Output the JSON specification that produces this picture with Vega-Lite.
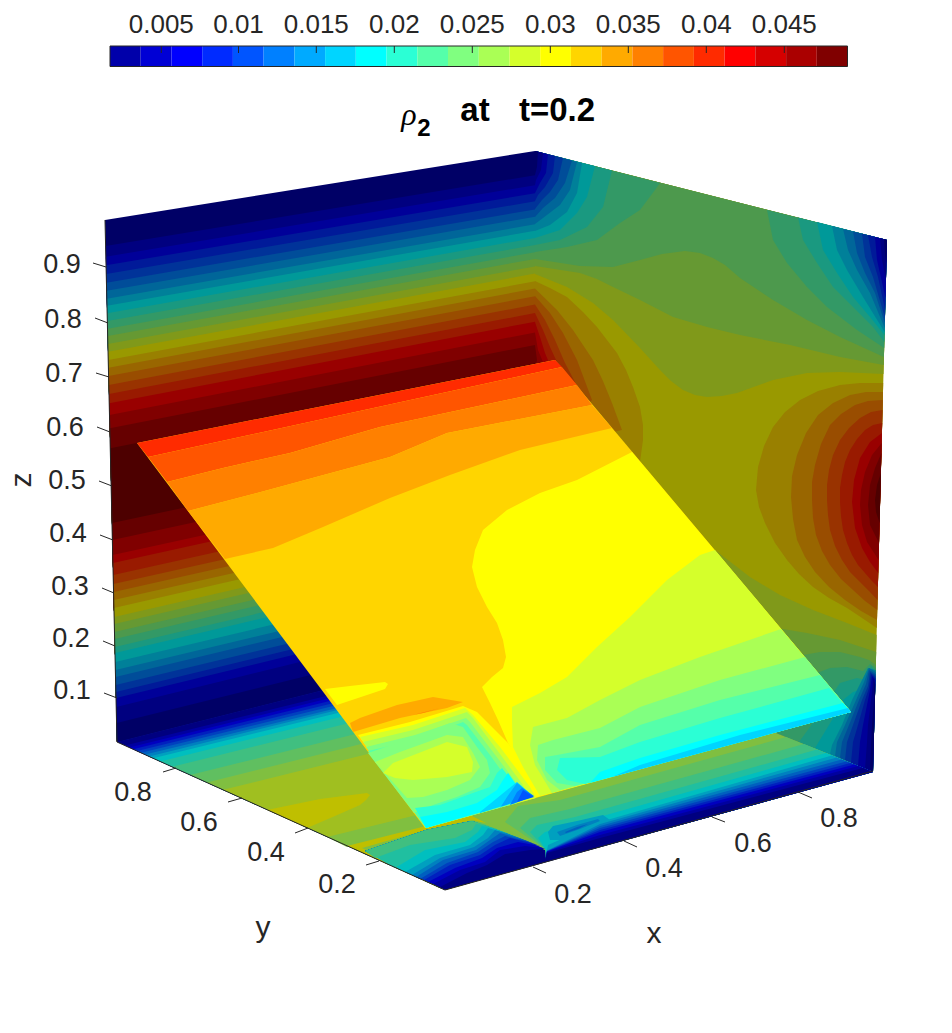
{
"$schema":"https://vega.github.io/schema/vega-lite/v6.json",
"width":952,"height":1033,"padding":0,"autosize":"none","background":"white",
"view":{"stroke":null},
"projection":{"type":"identity","scale":1,"translate":[0,0]},
"datasets":{
"walls":[
{"rho":0.0027,"type":"Polygon","coordinates":[[[105,220],[535,151],[535,637],[117,742],[105,220]]]},
{"rho":0.0047,"type":"Polygon","coordinates":[[[105.6,246],[535,175.2],[535,637],[117,742],[105.6,246]]]},
{"rho":0.0066,"type":"Polygon","coordinates":[[[105.8,256.7],[535,185.2],[535,637],[117,742],[105.8,256.7]]]},
{"rho":0.0086,"type":"Polygon","coordinates":[[[106,265.3],[535,193.2],[535,637],[117,742],[106,265.3]]]},
{"rho":0.0106,"type":"Polygon","coordinates":[[[106.2,274],[535,201.3],[535,637],[117,742],[106.2,274]]]},
{"rho":0.0126,"type":"Polygon","coordinates":[[[106.4,282.7],[535,209.4],[535,637],[117,742],[106.4,282.7]]]},
{"rho":0.0145,"type":"Polygon","coordinates":[[[106.6,290.7],[535,216.8],[535,637],[117,742],[106.6,290.7]]]},
{"rho":0.0165,"type":"Polygon","coordinates":[[[106.8,298.7],[535,224.3],[535,637],[117,742],[106.8,298.7]]]},
{"rho":0.0185,"type":"Polygon","coordinates":[[[107,305.7],[535,230.8],[535,637],[117,742],[107,305.7]]]},
{"rho":0.0205,"type":"Polygon","coordinates":[[[107.1,313.3],[535,237.9],[535,637],[117,742],[107.1,313.3]]]},
{"rho":0.0224,"type":"Polygon","coordinates":[[[107.3,321],[535,245],[535,637],[117,742],[107.3,321]]]},
{"rho":0.0244,"type":"Polygon","coordinates":[[[107.5,328.7],[535,252.2],[535,637],[117,742],[107.5,328.7]]]},
{"rho":0.0264,"type":"Polygon","coordinates":[[[107.7,336],[535,259],[535,637],[117,742],[107.7,336]]]},
{"rho":0.0284,"type":"Polygon","coordinates":[[[107.9,344],[535,266.4],[535,637],[117,742],[107.9,344]]]},
{"rho":0.0303,"type":"Polygon","coordinates":[[[108,351.7],[535,273.6],[535,637],[117,742],[108,351.7]]]},
{"rho":0.0323,"type":"Polygon","coordinates":[[[108.2,360],[535,281.3],[535,637],[117,742],[108.2,360]]]},
{"rho":0.0343,"type":"Polygon","coordinates":[[[108.4,367.7],[535,288.5],[535,637],[117,742],[108.4,367.7]]]},
{"rho":0.0363,"type":"Polygon","coordinates":[[[108.6,376],[535,296.2],[535,637],[117,742],[108.6,376]]]},
{"rho":0.0382,"type":"Polygon","coordinates":[[[108.8,385],[535,304.6],[535,637],[117,742],[108.8,385]]]},
{"rho":0.0402,"type":"Polygon","coordinates":[[[109,394],[535,313],[535,637],[117,742],[109,394]]]},
{"rho":0.0422,"type":"Polygon","coordinates":[[[109.2,403.3],[535,321.7],[535,637],[117,742],[109.2,403.3]]]},
{"rho":0.0442,"type":"Polygon","coordinates":[[[109.5,415],[535,332.5],[535,637],[117,742],[109.5,415]]]},
{"rho":0.0461,"type":"Polygon","coordinates":[[[109.8,428.3],[535,344.9],[535,637],[117,742],[109.8,428.3]]]},
{"rho":0.0481,"type":"Polygon","coordinates":[[[110.3,448.3],[535,363.5],[535,637],[117,742],[110.3,448.3]]]},
{"rho":0.0461,"type":"Polygon","coordinates":[[[112,523],[535,433],[535,637],[117,742],[112,523]]]},
{"rho":0.0442,"type":"Polygon","coordinates":[[[112.4,540],[535,449],[535,637],[117,742],[112.4,540]]]},
{"rho":0.0422,"type":"Polygon","coordinates":[[[112.7,555],[535,463],[535,637],[117,742],[112.7,555]]]},
{"rho":0.0402,"type":"Polygon","coordinates":[[[112.9,563],[535,470],[535,637],[117,742],[112.9,563]]]},
{"rho":0.0382,"type":"Polygon","coordinates":[[[113.2,575],[535,481.5],[535,637],[117,742],[113.2,575]]]},
{"rho":0.0363,"type":"Polygon","coordinates":[[[113.4,584],[535,490],[535,637],[117,742],[113.4,584]]]},
{"rho":0.0343,"type":"Polygon","coordinates":[[[113.6,592],[535,497],[535,637],[117,742],[113.6,592]]]},
{"rho":0.0323,"type":"Polygon","coordinates":[[[113.7,600],[535,505],[535,637],[117,742],[113.7,600]]]},
{"rho":0.0303,"type":"Polygon","coordinates":[[[113.9,608],[535,512],[535,637],[117,742],[113.9,608]]]},
{"rho":0.0284,"type":"Polygon","coordinates":[[[114.1,617],[535,520.6],[535,637],[117,742],[114.1,617]]]},
{"rho":0.0264,"type":"Polygon","coordinates":[[[114.3,624],[535,527],[535,637],[117,742],[114.3,624]]]},
{"rho":0.0244,"type":"Polygon","coordinates":[[[114.5,632],[535,534.6],[535,637],[117,742],[114.5,632]]]},
{"rho":0.0224,"type":"Polygon","coordinates":[[[114.6,639],[535,541],[535,637],[117,742],[114.6,639]]]},
{"rho":0.0205,"type":"Polygon","coordinates":[[[114.8,647],[535,548.5],[535,637],[117,742],[114.8,647]]]},
{"rho":0.0185,"type":"Polygon","coordinates":[[[115,653],[535,554],[535,637],[117,742],[115,653]]]},
{"rho":0.0165,"type":"Polygon","coordinates":[[[115.2,662],[535,562.5],[535,637],[117,742],[115.2,662]]]},
{"rho":0.0145,"type":"Polygon","coordinates":[[[115.4,670],[535,570],[535,637],[117,742],[115.4,670]]]},
{"rho":0.0126,"type":"Polygon","coordinates":[[[115.5,677],[535,576.5],[535,637],[117,742],[115.5,677]]]},
{"rho":0.0106,"type":"Polygon","coordinates":[[[115.7,685],[535,584],[535,637],[117,742],[115.7,685]]]},
{"rho":0.0086,"type":"Polygon","coordinates":[[[115.9,692],[535,590.5],[535,637],[117,742],[115.9,692]]]},
{"rho":0.0066,"type":"Polygon","coordinates":[[[116,698],[535,596],[535,637],[117,742],[116,698]]]},
{"rho":0.0047,"type":"Polygon","coordinates":[[[116.2,707],[535,604.4],[535,637],[117,742],[116.2,707]]]},
{"rho":0.0027,"type":"Polygon","coordinates":[[[116.6,723],[535,619.3],[535,637],[117,742],[116.6,723]]]},

{"rho":0.0303,"type":"Polygon","coordinates":[[[535,151],[887,240],[873,772],[535,637],[535,151]]]},
{"rho":0.0323,"type":"Polygon","coordinates":[[[535,281],[550,288],[567,297],[583,312],[597,327],[617,353],[626,370],[633,387],[640,407],[643,425],[643,440],[640,462],[540,450],[535,450],[535,281]]]},
{"rho":0.0343,"type":"Polygon","coordinates":[[[535,288.5],[557,310],[573,330],[593,360],[603,381],[612,403],[622,430],[540,450],[535,450],[535,288.5]]]},
{"rho":0.0363,"type":"Polygon","coordinates":[[[535,296],[550,313],[563,333],[577,360],[592,400],[540,450],[535,450],[535,296]]]},
{"rho":0.0382,"type":"Polygon","coordinates":[[[535,304.6],[545,320],[555,340],[565,363],[575,382],[540,450],[535,450],[535,304.6]]]},
{"rho":0.0402,"type":"Polygon","coordinates":[[[535,313],[543,330],[550,347],[557,362],[540,450],[535,450],[535,313]]]},
{"rho":0.0422,"type":"Polygon","coordinates":[[[535,322],[540,337],[545,353],[550,365],[540,450],[535,450],[535,322]]]},
{"rho":0.0442,"type":"Polygon","coordinates":[[[535,332.5],[538,350],[543,362],[540,450],[535,450],[535,332.5]]]},
{"rho":0.0461,"type":"Polygon","coordinates":[[[535,345],[537,360],[535,370],[535,345]]]},

{"rho":0.0323,"type":"Polygon","coordinates":[[[883.2,383],[860,383],[840,385],[818,391],[800,400],[785,412],[773,427],[764,446],[758,467],[756,490],[759,507],[765,523],[775,543],[787,560],[799,574],[813,587],[829,598],[847,608],[862,618],[876.8,628],[883.2,383]]]},
{"rho":0.0343,"type":"Polygon","coordinates":[[[883,392],[866,392],[850,395],[833,403],[818,415],[806,433],[797,455],[792,476],[791,497],[793,519],[797,540],[805,557],[815,572],[829,587],[845,600],[861,611],[877,620],[883,392]]]},
{"rho":0.0363,"type":"Polygon","coordinates":[[[882.8,400],[868,401],[855,405],[841,414],[830,425],[821,444],[815,465],[812,482],[812,500],[813,518],[816,535],[822,551],[830,565],[841,579],[853,590],[865,601],[877.3,610],[882.8,400]]]},
{"rho":0.0382,"type":"Polygon","coordinates":[[[882.5,410],[871,412],[860,418],[849,428],[840,440],[833,455],[829,470],[827,485],[827,500],[828,515],[830,530],[835,546],[842,560],[850,572],[860,582],[869,591],[877.5,600],[882.5,410]]]},
{"rho":0.0402,"type":"Polygon","coordinates":[[[882.2,423],[873,425],[865,430],[857,439],[850,450],[845,462],[842,475],[840,488],[840,502],[841,516],[843,530],[847,543],[852,555],[858,565],[865,573],[871,580],[877.9,587],[882.2,423]]]},
{"rho":0.0422,"type":"Polygon","coordinates":[[[881.9,433],[870,442],[860,458],[854,480],[852,502],[855,528],[862,548],[870,562],[878.2,573],[881.9,433]]]},
{"rho":0.0442,"type":"Polygon","coordinates":[[[881.7,443],[872,455],[865,472],[861,490],[860,505],[862,525],[867,542],[878.6,560],[881.7,443]]]},
{"rho":0.0461,"type":"Polygon","coordinates":[[[881.4,453],[875,468],[870,485],[868,505],[870,525],[879,543],[881.4,453]]]},
{"rho":0.0481,"type":"Polygon","coordinates":[[[880.9,473],[877,485],[875,500],[876,512],[879.6,523],[880.9,473]]]},

{"rho":0.0284,"type":"Polygon","coordinates":[[[535,151],[887,240],[883.5,374],[840,372],[807,373],[773,380],[737,393],[722,396],[707,397],[695,395],[683,390],[671,381],[660,370],[640,348],[613,320],[593,303],[567,287],[535,274],[535,151]]]},
{"rho":0.0264,"type":"Polygon","coordinates":[[[535,151],[887,240],[883.7,365],[840,357],[790,345],[740,335],[707,327],[673,317],[640,300],[613,287],[597,279],[580,273],[535,266],[535,151]]]},
{"rho":0.0244,"type":"Polygon","coordinates":[[[535,151],[887,240],[883.9,357],[840,337],[807,320],[773,300],[740,278],[725,265],[713,258],[700,253],[685,251],[662,254],[640,260],[613,267],[580,266],[535,259],[535,151]]]},
{"rho":0.0224,"type":"Polygon","coordinates":[[[535,151],[660,183],[655,190],[640,210],[620,223],[597,240],[567,247],[535,252],[535,151]]]},
{"rho":0.0224,"type":"Polygon","coordinates":[[[767,210],[773,240],[787,263],[807,287],[827,307],[857,330],[884.2,348],[887,240],[767,210]]]},
{"rho":0.0205,"type":"Polygon","coordinates":[[[535,151],[612,170.5],[603,207],[587,227],[560,240],[535,245],[535,151]]]},
{"rho":0.0205,"type":"Polygon","coordinates":[[[798,217.5],[803,240],[817,263],[833,287],[853,307],[873,327],[884.3,342],[887,240],[798,217.5]]]},
{"rho":0.0185,"type":"Polygon","coordinates":[[[535,151],[595,166],[587,197],[577,213],[560,230],[535,238],[535,151]]]},
{"rho":0.0185,"type":"Polygon","coordinates":[[[817,222],[823,250],[837,273],[853,297],[870,317],[884.5,335],[887,240],[817,222]]]},
{"rho":0.0165,"type":"Polygon","coordinates":[[[535,151],[582,163],[577,193],[567,212],[550,225],[535,231],[535,151]]]},
{"rho":0.0165,"type":"Polygon","coordinates":[[[832,226],[837,250],[847,270],[863,297],[884.6,332],[887,240],[832,226]]]},
{"rho":0.0145,"type":"Polygon","coordinates":[[[535,151],[577,162],[570,190],[560,205],[543,218],[535,224],[535,151]]]},
{"rho":0.0145,"type":"Polygon","coordinates":[[[843,229],[848,250],[857,270],[870,293],[884.7,328],[887,240],[843,229]]]},
{"rho":0.0126,"type":"Polygon","coordinates":[[[535,151],[572,160.4],[565,183],[555,198],[543,208],[535,217],[535,151]]]},
{"rho":0.0126,"type":"Polygon","coordinates":[[[853,231.4],[857,253],[865,273],[875,293],[884.8,323],[887,240],[853,231.4]]]},
{"rho":0.0106,"type":"Polygon","coordinates":[[[535,151],[563,158],[558,180],[550,192],[542,200],[535,209],[535,151]]]},
{"rho":0.0106,"type":"Polygon","coordinates":[[[862,233.7],[865,257],[873,277],[885,318],[887,240],[862,233.7]]]},
{"rho":0.0086,"type":"Polygon","coordinates":[[[535,151],[555,156],[553,173],[545,187],[538,195],[535,201],[535,151]]]},
{"rho":0.0086,"type":"Polygon","coordinates":[[[868,235],[872,257],[878,277],[885.2,310],[887,240],[868,235]]]},
{"rho":0.0066,"type":"Polygon","coordinates":[[[535,151],[548,154.3],[546,173],[540,183],[535,193],[535,151]]]},
{"rho":0.0066,"type":"Polygon","coordinates":[[[875,237],[877,260],[885.5,298],[887,240],[875,237]]]},
{"rho":0.0047,"type":"Polygon","coordinates":[[[535,151],[543,153],[541,170],[536,180],[535,185],[535,151]]]},
{"rho":0.0047,"type":"Polygon","coordinates":[[[880,238],[882,260],[886,280],[887,240],[880,238]]]},
{"rho":0.0027,"type":"Polygon","coordinates":[[[535,151],[538,151.8],[537,167],[535,175],[535,151]]]},
{"rho":0.0027,"type":"Polygon","coordinates":[[[884,239],[885,255],[886.4,263],[887,240],[884,239]]]},

{"rho":0.0284,"type":"Polygon","coordinates":[[[876.6,635],[847,623],[813,610],[780,595],[750,577],[715,550],[660,520],[660,680],[700,700],[873,772],[876.6,635]]]},
{"rho":0.0264,"type":"Polygon","coordinates":[[[876.2,652],[840,640],[807,633],[783,629],[700,630],[700,700],[873,772],[876.2,652]]]},
{"rho":0.0244,"type":"Polygon","coordinates":[[[803,655],[820,652],[840,652],[860,657],[869,660],[875.8,665],[873,772],[776,733],[803,655]]]},
{"rho":0.0224,"type":"Polygon","coordinates":[[[817,673],[830,668],[847,667],[863,671],[870,664],[875.7,668],[873,772],[776,733],[800,700],[817,673]]]},
{"rho":0.0205,"type":"Polygon","coordinates":[[[833,693],[840,683],[857,678],[866,680],[871,666],[875.6,672],[873,772],[799,742],[815,720],[833,693]]]},
{"rho":0.0185,"type":"Polygon","coordinates":[[[843,700],[853,692],[866,688],[872,668],[875.5,676],[873,772],[815,748],[832,720],[843,700]]]},
{"rho":0.0165,"type":"Polygon","coordinates":[[[868,668],[862,680],[852,700],[842,725],[832,745],[830,754],[873,772],[875.7,670],[868,668]]]},
{"rho":0.0145,"type":"Polygon","coordinates":[[[869,668],[864,682],[856,700],[845,725],[837,742],[835,756],[873,772],[875.6,672],[869,668]]]},
{"rho":0.0126,"type":"Polygon","coordinates":[[[869,670],[866,684],[859,700],[849,725],[842,742],[840,758],[873,772],[875.6,674],[869,670]]]},
{"rho":0.0106,"type":"Polygon","coordinates":[[[870,672],[868,686],[862,700],[853,725],[847,742],[845,760],[873,772],[875.5,676],[870,672]]]},
{"rho":0.0086,"type":"Polygon","coordinates":[[[871,674],[869,688],[865,700],[858,725],[853,742],[851,763],[873,772],[875.5,678],[871,674]]]},
{"rho":0.0066,"type":"Polygon","coordinates":[[[872,676],[870,690],[868,700],[863,725],[860,742],[858,766],[873,772],[875.4,680],[872,676]]]},
{"rho":0.0047,"type":"Polygon","coordinates":[[[873,678],[872,692],[871,700],[868,725],[867,742],[865,769],[873,772],[875.3,684],[873,678]]]},
{"rho":0.0027,"type":"Polygon","coordinates":[[[874,680],[874,700],[872,725],[871,745],[870,771],[873,772],[875.2,690],[874,680]]]}
],
"floor":[
{"rho":0.0027,"type":"Polygon","coordinates":[[[117,742],[535,637],[873,772],[445,890],[117,742]]]},
{"rho":0.0047,"type":"Polygon","coordinates":[[[125,745.6],[375,684],[650,700],[445,890],[125,745.6]]]},
{"rho":0.0066,"type":"Polygon","coordinates":[[[129,747.4],[379,686],[650,700],[445,890],[129,747.4]]]},
{"rho":0.0086,"type":"Polygon","coordinates":[[[133,749.2],[383,688],[650,700],[445,890],[133,749.2]]]},
{"rho":0.0106,"type":"Polygon","coordinates":[[[137,751],[387,690],[650,700],[445,890],[137,751]]]},
{"rho":0.0126,"type":"Polygon","coordinates":[[[141,752.8],[391,692],[650,700],[445,890],[141,752.8]]]},
{"rho":0.0145,"type":"Polygon","coordinates":[[[145,754.6],[395,694],[650,700],[445,890],[145,754.6]]]},
{"rho":0.0165,"type":"Polygon","coordinates":[[[149,756.4],[399,695],[650,700],[445,890],[149,756.4]]]},
{"rho":0.0185,"type":"Polygon","coordinates":[[[153,758.2],[403,697],[650,700],[445,890],[153,758.2]]]},
{"rho":0.0205,"type":"Polygon","coordinates":[[[160,761.4],[410,700],[650,700],[445,890],[160,761.4]]]},
{"rho":0.0224,"type":"Polygon","coordinates":[[[172,766.8],[422,705],[650,700],[445,890],[172,766.8]]]},
{"rho":0.0244,"type":"Polygon","coordinates":[[[190,775],[440,713],[650,700],[445,890],[190,775]]]},
{"rho":0.0264,"type":"Polygon","coordinates":[[[207,782.6],[457,720],[650,700],[445,890],[207,782.6]]]},
{"rho":0.0284,"type":"Polygon","coordinates":[[[223,789.8],[473,728],[650,700],[445,890],[223,789.8]]]},
{"rho":0.0303,"type":"Polygon","coordinates":[[[267,810],[320,799],[367,793],[370,795],[366,800],[360,805],[335,816],[307,828],[267,810]]]},
{"rho":0.0264,"type":"Polygon","coordinates":[[[327,837],[425,813],[440,830],[347,847],[327,837]]]},
{"rho":0.0303,"type":"Polygon","coordinates":[[[347,846],[426,826],[475,812],[490,815],[545,848],[545,862],[445,890],[347,846]]]},
{"rho":0.0264,"type":"Polygon","coordinates":[[[470,790],[700,715],[776,733],[873,772],[545,862],[500,830],[470,815],[470,790]]]},
{"rho":0.0244,"type":"Polygon","coordinates":[[[545,849],[505,822],[518,806],[560,800],[786,737],[873,772],[545,862],[545,849]]]},
{"rho":0.0224,"type":"Polygon","coordinates":[[[545,849],[520,828],[530,818],[570,809],[804,744],[873,772],[545,862],[545,849]]]},
{"rho":0.0205,"type":"Polygon","coordinates":[[[546,850],[530,832],[537,825],[575,817],[817,749.6],[873,772],[545,862],[546,850]]]},
{"rho":0.0185,"type":"Polygon","coordinates":[[[546,850],[538,838],[545,832],[585,821],[826,753],[873,772],[545,862],[546,850]]]},
{"rho":0.0165,"type":"Polygon","coordinates":[[[548,832],[553,826],[577,821],[603,815],[610,820],[590,832],[563,840],[550,840],[548,832]]]},
{"rho":0.0145,"type":"Polygon","coordinates":[[[557,832],[577,825],[598,819],[600,821],[580,829],[560,836],[557,832]]]},
{"rho":0.0126,"type":"Polygon","coordinates":[[[565,832],[577,827],[588,824],[578,829],[566,833],[565,832]]]},
{"rho":0.0165,"type":"Polygon","coordinates":[[[547,850],[548,845],[600,822],[831.8,755.5],[873,772],[545,862],[547,850]]]},
{"rho":0.0145,"type":"Polygon","coordinates":[[[547,850.5],[600,824],[836.7,757.5],[873,772],[545,862],[547,850.5]]]},
{"rho":0.0126,"type":"Polygon","coordinates":[[[547,851],[600,826],[841.7,759.5],[873,772],[545,862],[547,851]]]},
{"rho":0.0106,"type":"Polygon","coordinates":[[[547,851],[600,828],[846.5,761.4],[873,772],[545,862],[547,851]]]},
{"rho":0.0086,"type":"Polygon","coordinates":[[[547,851.5],[600,830],[850.5,763],[873,772],[545,862],[547,851.5]]]},
{"rho":0.0066,"type":"Polygon","coordinates":[[[547,851.5],[600,832],[854.3,764.5],[873,772],[545,862],[547,851.5]]]},
{"rho":0.0047,"type":"Polygon","coordinates":[[[547,852],[600,835],[858.3,766],[873,772],[545,862],[547,852]]]},
{"rho":0.0027,"type":"Polygon","coordinates":[[[547,853],[600,838],[862.7,768],[873,772],[545,862],[547,853]]]},
{"rho":0.0264,"type":"Polygon","coordinates":[[[362,848],[426,830],[472,820],[500,826],[545,850],[545,862],[445,890],[362,848]]]},
{"rho":0.0027,"type":"Polygon","coordinates":[[[365,851],[445,890],[546,862],[545,850],[472,821],[365,851]]]},
{"rho":0.0047,"type":"Polygon","coordinates":[[[440,887],[467,873],[487,865],[505,854],[530,850],[545,849],[472,821],[426,830],[365,851],[440,887]]]},
{"rho":0.0066,"type":"Polygon","coordinates":[[[433,884],[460,870],[485,862],[500,850],[525,846],[543,848],[472,821],[426,830],[365,851],[433,884]]]},
{"rho":0.0086,"type":"Polygon","coordinates":[[[428,882],[455,868],[482,858],[497,848],[518,842],[540,846],[472,821],[426,830],[365,851],[428,882]]]},
{"rho":0.0106,"type":"Polygon","coordinates":[[[424,880],[450,865],[480,855],[495,845],[510,838],[535,844],[472,821],[426,830],[365,851],[424,880]]]},
{"rho":0.0126,"type":"Polygon","coordinates":[[[420,879],[447,863],[478,852],[493,842],[505,836],[530,842],[472,821],[426,830],[365,851],[420,879]]]},
{"rho":0.0145,"type":"Polygon","coordinates":[[[416,877],[443,860],[476,850],[490,840],[500,833],[525,840],[472,821],[426,830],[365,851],[416,877]]]},
{"rho":0.0165,"type":"Polygon","coordinates":[[[412,875],[440,858],[474,847],[488,838],[495,830],[520,838],[472,821],[426,830],[365,851],[412,875]]]},
{"rho":0.0185,"type":"Polygon","coordinates":[[[405,872],[435,855],[470,845],[483,835],[488,828],[510,834],[472,821],[426,830],[365,851],[405,872]]]},
{"rho":0.0205,"type":"Polygon","coordinates":[[[395,868],[425,850],[465,842],[478,832],[482,826],[500,830],[472,821],[426,830],[365,851],[395,868]]]},
{"rho":0.0224,"type":"Polygon","coordinates":[[[375,858],[410,845],[455,838],[472,830],[476,824],[490,826],[472,821],[426,830],[365,851],[375,858]]]}
],
"slice":[
{"rho":0.0323,"type":"Polygon","coordinates":[[[137,443],[555,360],[851,712],[425,828],[137,443]]]},
{"rho":0.0402,"type":"Polygon","coordinates":[[[137,443],[555,360],[562,367],[148,457],[137,443]]]},
{"rho":0.0382,"type":"Polygon","coordinates":[[[148,457],[562,367],[577,385],[380,427],[290,453],[223,468],[167,482],[148,457]]]},
{"rho":0.0363,"type":"Polygon","coordinates":[[[167,482],[223,468],[290,453],[380,427],[577,385],[592,405],[447,433],[390,457],[257,493],[188,511],[167,482]]]},
{"rho":0.0343,"type":"Polygon","coordinates":[[[188,511],[257,493],[390,457],[447,433],[592,405],[612,428],[520,450],[450,475],[390,498],[323,527],[273,548],[225,559],[188,511]]]},
{"rho":0.0303,"type":"Polygon","coordinates":[[[632,452],[577,480],[540,493],[507,510],[483,530],[475,550],[472,567],[477,587],[487,607],[497,623],[503,640],[506,657],[503,668],[492,677],[482,687],[490,703],[498,720],[508,743],[541,796],[851,712],[632,452]]]},
{"rho":0.0303,"type":"Polygon","coordinates":[[[325,689],[350,686],[385,682],[388,684],[385,689],[370,694],[337,705],[325,689]]]},
{"rho":0.0343,"type":"Polygon","coordinates":[[[350,723],[360,718],[397,705],[433,697],[463,702],[447,708],[400,718],[353,732],[350,723]]]},
{"rho":0.0363,"type":"Polygon","coordinates":[[[413,715],[440,708],[423,713],[413,715]]]},
{"rho":0.0303,"type":"Polygon","coordinates":[[[358,735],[410,722],[463,706],[477,712],[508,743],[530,773],[541,796],[426,828],[358,735]]]},
{"rho":0.0284,"type":"Polygon","coordinates":[[[360,737],[413,725],[465,708],[473,715],[500,747],[530,787],[536,798],[426,828],[360,737]]]},
{"rho":0.0264,"type":"Polygon","coordinates":[[[363,742],[413,730],[467,712],[473,718],[497,750],[523,785],[528,799],[426,828],[363,742]]]},
{"rho":0.0244,"type":"Polygon","coordinates":[[[366,747],[415,735],[466,718],[470,722],[493,752],[518,785],[522,801],[426,828],[366,747]]]},
{"rho":0.0224,"type":"Polygon","coordinates":[[[368,751],[416,740],[463,722],[467,725],[490,755],[513,787],[517,803],[426,828],[368,751]]]},
{"rho":0.0244,"type":"Polygon","coordinates":[[[368,753],[400,742],[450,723],[463,727],[477,747],[487,760],[490,773],[480,787],[457,797],[433,805],[414,813],[368,753]]]},
{"rho":0.0264,"type":"Polygon","coordinates":[[[375,762],[400,752],[447,735],[463,737],[473,753],[480,767],[470,780],[447,790],[423,797],[407,798],[375,762]]]},
{"rho":0.0284,"type":"Polygon","coordinates":[[[383,773],[393,763],[447,742],[467,747],[473,762],[472,772],[447,777],[413,780],[395,778],[383,773]]]},
{"rho":0.0205,"type":"Polygon","coordinates":[[[415,808],[440,805],[473,793],[490,787],[497,773],[502,768],[517,787],[530,797],[426,827],[415,808]]]},
{"rho":0.0185,"type":"Polygon","coordinates":[[[420,817],[447,812],[477,803],[497,790],[503,780],[508,773],[520,790],[530,798],[426,828],[420,817]]]},
{"rho":0.0165,"type":"Polygon","coordinates":[[[480,812],[507,790],[517,782],[533,796],[480,813],[480,812]]]},
{"rho":0.0145,"type":"Polygon","coordinates":[[[500,808],[507,797],[517,783],[523,788],[533,796],[500,807],[500,808]]]},
{"rho":0.0126,"type":"Polygon","coordinates":[[[510,805],[517,792],[522,788],[534,796],[510,805]]]},
{"rho":0.0106,"type":"Polygon","coordinates":[[[517,802],[523,790],[534,797],[517,802]]]},
{"rho":0.0284,"type":"Polygon","coordinates":[[[715,550],[700,555],[667,580],[630,617],[597,647],[567,677],[540,693],[512,707],[512,722],[513,747],[523,767],[540,796],[851,712],[715,550]]]},
{"rho":0.0264,"type":"Polygon","coordinates":[[[781,629],[700,657],[640,680],[600,700],[567,718],[533,727],[530,745],[535,765],[552,793],[851,712],[781,629]]]},
{"rho":0.0244,"type":"Polygon","coordinates":[[[805,657],[720,680],[640,707],[600,728],[553,740],[538,745],[537,760],[547,780],[560,790],[851,712],[805,657]]]},
{"rho":0.0224,"type":"Polygon","coordinates":[[[820,675],[720,700],[640,725],[600,747],[557,755],[545,757],[545,770],[557,783],[575,786],[851,712],[820,675]]]},
{"rho":0.0205,"type":"Polygon","coordinates":[[[829,688],[720,718],[640,742],[600,757],[560,758],[557,770],[567,780],[585,784],[851,712],[829,688]]]},
{"rho":0.0185,"type":"Polygon","coordinates":[[[843,703],[720,735],[640,758],[600,772],[590,783],[851,712],[843,703]]]},
{"rho":0.0165,"type":"Polygon","coordinates":[[[848,708],[740,735],[640,765],[612,777],[851,712],[848,708]]]},
{"rho":0.0027,"type":"Polygon","coordinates":[[[110,46],[140.7,46],[140.7,66.5],[110,66.5],[110,46]]]},
{"rho":0.0047,"type":"Polygon","coordinates":[[[140.7,46],[171.5,46],[171.5,66.5],[140.7,66.5],[140.7,46]]]},
{"rho":0.0066,"type":"Polygon","coordinates":[[[171.5,46],[202.2,46],[202.2,66.5],[171.5,66.5],[171.5,46]]]},
{"rho":0.0086,"type":"Polygon","coordinates":[[[202.2,46],[232.9,46],[232.9,66.5],[202.2,66.5],[202.2,46]]]},
{"rho":0.0106,"type":"Polygon","coordinates":[[[232.9,46],[263.6,46],[263.6,66.5],[232.9,66.5],[232.9,46]]]},
{"rho":0.0126,"type":"Polygon","coordinates":[[[263.6,46],[294.4,46],[294.4,66.5],[263.6,66.5],[263.6,46]]]},
{"rho":0.0145,"type":"Polygon","coordinates":[[[294.4,46],[325.1,46],[325.1,66.5],[294.4,66.5],[294.4,46]]]},
{"rho":0.0165,"type":"Polygon","coordinates":[[[325.1,46],[355.8,46],[355.8,66.5],[325.1,66.5],[325.1,46]]]},
{"rho":0.0185,"type":"Polygon","coordinates":[[[355.8,46],[386.6,46],[386.6,66.5],[355.8,66.5],[355.8,46]]]},
{"rho":0.0205,"type":"Polygon","coordinates":[[[386.6,46],[417.3,46],[417.3,66.5],[386.6,66.5],[386.6,46]]]},
{"rho":0.0224,"type":"Polygon","coordinates":[[[417.3,46],[448,46],[448,66.5],[417.3,66.5],[417.3,46]]]},
{"rho":0.0244,"type":"Polygon","coordinates":[[[448,46],[478.8,46],[478.8,66.5],[448,66.5],[448,46]]]},
{"rho":0.0264,"type":"Polygon","coordinates":[[[478.8,46],[509.5,46],[509.5,66.5],[478.8,66.5],[478.8,46]]]},
{"rho":0.0284,"type":"Polygon","coordinates":[[[509.5,46],[540.2,46],[540.2,66.5],[509.5,66.5],[509.5,46]]]},
{"rho":0.0303,"type":"Polygon","coordinates":[[[540.2,46],[570.9,46],[570.9,66.5],[540.2,66.5],[540.2,46]]]},
{"rho":0.0323,"type":"Polygon","coordinates":[[[570.9,46],[601.7,46],[601.7,66.5],[570.9,66.5],[570.9,46]]]},
{"rho":0.0343,"type":"Polygon","coordinates":[[[601.7,46],[632.4,46],[632.4,66.5],[601.7,66.5],[601.7,46]]]},
{"rho":0.0363,"type":"Polygon","coordinates":[[[632.4,46],[663.1,46],[663.1,66.5],[632.4,66.5],[632.4,46]]]},
{"rho":0.0382,"type":"Polygon","coordinates":[[[663.1,46],[693.9,46],[693.9,66.5],[663.1,66.5],[663.1,46]]]},
{"rho":0.0402,"type":"Polygon","coordinates":[[[693.9,46],[724.6,46],[724.6,66.5],[693.9,66.5],[693.9,46]]]},
{"rho":0.0422,"type":"Polygon","coordinates":[[[724.6,46],[755.3,46],[755.3,66.5],[724.6,66.5],[724.6,46]]]},
{"rho":0.0442,"type":"Polygon","coordinates":[[[755.3,46],[786.1,46],[786.1,66.5],[755.3,66.5],[755.3,46]]]},
{"rho":0.0461,"type":"Polygon","coordinates":[[[786.1,46],[816.8,46],[816.8,66.5],[786.1,66.5],[786.1,46]]]},
{"rho":0.0481,"type":"Polygon","coordinates":[[[816.8,46],[847.5,46],[847.5,66.5],[816.8,66.5],[816.8,46]]]}
],
"lines":[
{"type":"LineString","coordinates":[[105,220],[117,742],[445,890],[873,771]]},
{"type":"LineString","coordinates":[[110,46],[847.5,46],[847.5,66.5],[110,66.5],[110,46]]},
{"type":"LineString","coordinates":[[93,263],[106,267]]},{"type":"LineString","coordinates":[[95,318],[108,323]]},
{"type":"LineString","coordinates":[[96,373],[109,377]]},{"type":"LineString","coordinates":[[97,427],[110,432]]},
{"type":"LineString","coordinates":[[99,481],[112,486]]},{"type":"LineString","coordinates":[[100,535],[113,540]]},
{"type":"LineString","coordinates":[[102,588],[114,593]]},{"type":"LineString","coordinates":[[103,641],[115,646]]},
{"type":"LineString","coordinates":[[104,693],[117,698]]},
{"type":"LineString","coordinates":[[163,772],[176,768]]},{"type":"LineString","coordinates":[[228,802],[242,798]]},
{"type":"LineString","coordinates":[[295,833],[308,828]]},{"type":"LineString","coordinates":[[366,865],[379,861]]},
{"type":"LineString","coordinates":[[533,867],[546,873]]},{"type":"LineString","coordinates":[[624,841],[637,847]]},
{"type":"LineString","coordinates":[[712,817],[725,822]]},{"type":"LineString","coordinates":[[798,792],[812,798]]},
{"type":"LineString","coordinates":[[161.3,46],[161.3,53]]},{"type":"LineString","coordinates":[[238.5,46],[238.5,53]]},
{"type":"LineString","coordinates":[[316.3,46],[316.3,53]]},{"type":"LineString","coordinates":[[394.3,46],[394.3,53]]},
{"type":"LineString","coordinates":[[472.3,46],[472.3,53]]},{"type":"LineString","coordinates":[[550.3,46],[550.3,53]]},
{"type":"LineString","coordinates":[[628.3,46],[628.3,53]]},{"type":"LineString","coordinates":[[706.3,46],[706.3,53]]},
{"type":"LineString","coordinates":[[784.3,46],[784.3,53]]}
],
"labels":[
{"t":"0.005","h":161.3,"v":25,"s":26},{"t":"0.01","h":238.5,"v":25,"s":26},{"t":"0.015","h":316.3,"v":25,"s":26},
{"t":"0.02","h":394.3,"v":25,"s":26},{"t":"0.025","h":472.3,"v":25,"s":26},{"t":"0.03","h":550.3,"v":25,"s":26},
{"t":"0.035","h":628.3,"v":25,"s":26},{"t":"0.04","h":706.3,"v":25,"s":26},{"t":"0.045","h":784.3,"v":25,"s":26},
{"t":"0.9","h":62,"v":265,"s":27},{"t":"0.8","h":63,"v":320,"s":27},{"t":"0.7","h":64,"v":374,"s":27},
{"t":"0.6","h":65,"v":428,"s":27},{"t":"0.5","h":67,"v":481,"s":27},{"t":"0.4","h":68,"v":534,"s":27},
{"t":"0.3","h":70,"v":587,"s":27},{"t":"0.2","h":71,"v":639,"s":27},{"t":"0.1","h":72,"v":691,"s":27},
{"t":"0.8","h":133,"v":793,"s":27},{"t":"0.6","h":199,"v":823,"s":27},{"t":"0.4","h":266,"v":853,"s":27},{"t":"0.2","h":337,"v":885,"s":27},
{"t":"0.2","h":573,"v":895,"s":27},{"t":"0.4","h":664,"v":869,"s":27},{"t":"0.6","h":753,"v":844,"s":27},{"t":"0.8","h":839,"v":819,"s":27},
{"t":"x","h":654,"v":934,"s":30},{"t":"y","h":263,"v":928,"s":30}
],
"zlabel":[{"t":"z","h":22,"v":480}],
"title":[{"t":"at","h":475,"v":111},{"t":"t=0.2","h":557,"v":111}],
"rhoTitle":[{"t":"ρ","h":409,"v":115,"s":28,"w":"normal","f":"italic"},{"t":"2","h":424,"v":129,"s":22,"w":"bold","f":"normal"}]
},
"resolve":{"scale":{"color":"independent"}},
"layer":[
{"data":{"name":"walls"},"mark":{"type":"geoshape","strokeWidth":0},
"encoding":{"color":{"field":"rho","type":"quantitative","legend":null,"scale":{"type":"quantize","domain":[0.0017,0.0491],"range":["#000066","#000080","#000099","#001a99","#003399","#004d99","#006699","#008099","#009999","#1a9980","#339966","#4d994d","#669933","#80991a","#999900","#998000","#996600","#994d00","#993300","#991a00","#990000","#800000","#660000","#4d0000"]}}}},
{"data":{"name":"floor"},"mark":{"type":"geoshape","strokeWidth":0},
"encoding":{"color":{"field":"rho","type":"quantitative","legend":null,"scale":{"type":"quantize","domain":[0.0017,0.0491],"range":["#000080","#0000a0","#0000bf","#0020bf","#0040bf","#0060bf","#0080bf","#00a0bf","#00bfbf","#20bfa0","#40bf80","#60bf60","#80bf40","#a0bf20","#bfbf00","#bfa000","#bf8000","#bf6000","#bf4000","#bf2000","#bf0000","#a00000","#800000","#600000"]}}}},
{"data":{"name":"slice"},"mark":{"type":"geoshape","strokeWidth":0},
"encoding":{"color":{"field":"rho","type":"quantitative","legend":null,"scale":{"type":"quantize","domain":[0.0017,0.0491],"range":["#0000aa","#0000d5","#0000ff","#002bff","#0055ff","#0080ff","#00aaff","#00d5ff","#00ffff","#2bffd5","#55ffaa","#80ff80","#aaff55","#d5ff2b","#ffff00","#ffd500","#ffaa00","#ff8000","#ff5500","#ff2b00","#ff0000","#d50000","#aa0000","#800000"]}}}},
{"data":{"name":"lines"},"mark":{"type":"geoshape","filled":false,"stroke":"#262626","strokeWidth":1}},
{"data":{"name":"labels"},"mark":{"type":"text","font":"Liberation Sans","fill":"#262626","align":"center","baseline":"middle"},
"encoding":{"longitude":{"field":"h","type":"quantitative"},"latitude":{"field":"v","type":"quantitative"},"text":{"field":"t","type":"nominal"},"size":{"field":"s","type":"quantitative","scale":null}}},
{"data":{"name":"zlabel"},"mark":{"type":"text","font":"Liberation Sans","fontSize":30,"fill":"#262626","angle":270,"align":"center","baseline":"middle"},
"encoding":{"longitude":{"field":"h","type":"quantitative"},"latitude":{"field":"v","type":"quantitative"},"text":{"field":"t","type":"nominal"}}},
{"data":{"name":"title"},"mark":{"type":"text","font":"Liberation Sans","fontSize":33,"fontWeight":"bold","fill":"black","align":"center","baseline":"middle"},
"encoding":{"longitude":{"field":"h","type":"quantitative"},"latitude":{"field":"v","type":"quantitative"},"text":{"field":"t","type":"nominal"}}},
{"data":{"name":"rhoTitle"},"transform":[{"filter":"datum.w==='normal'"}],"mark":{"type":"text","font":"Liberation Serif","fontSize":32,"fontStyle":"italic","fill":"black","align":"center","baseline":"middle"},
"encoding":{"longitude":{"field":"h","type":"quantitative"},"latitude":{"field":"v","type":"quantitative"},"text":{"field":"t","type":"nominal"}}},
{"data":{"name":"rhoTitle"},"transform":[{"filter":"datum.w==='bold'"}],"mark":{"type":"text","font":"Liberation Sans","fontSize":24,"fontWeight":"bold","fill":"black","align":"center","baseline":"middle"},
"encoding":{"longitude":{"field":"h","type":"quantitative"},"latitude":{"field":"v","type":"quantitative"},"text":{"field":"t","type":"nominal"}}}
]
}
